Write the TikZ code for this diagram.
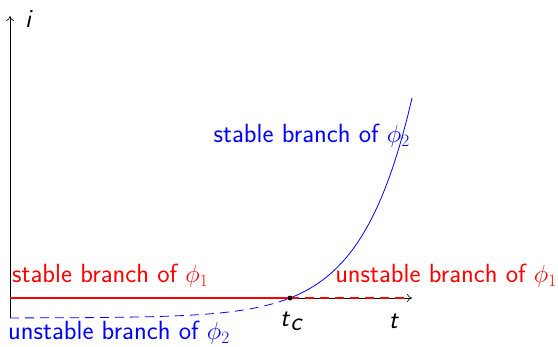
\documentclass[tikz,border=0pt]{standalone}
\usetikzlibrary{arrows.meta}
\begin{document}
\begin{tikzpicture}[x=1pt,y=-1pt,
  lbl/.style={font=\fontsize{26.3}{31}\selectfont\sffamily, inner sep=0pt},
  axis/.style={draw=black, line width=0.6pt, -{To[length=5pt,width=8pt]}},
  bluecurve/.style={draw=blue, line width=0.8pt},
  declare function={f(\x)=298-20*(exp(0.01966*(\x-290))-1);}]
\useasboundingbox (0,0) rectangle (558,347);
\coordinate (O) at (10,298);
\coordinate (Ob) at (10,318);
\coordinate (Ytop) at (10,16);
\coordinate (Xend) at (412,298);
\coordinate (tc) at (290,298);
% axes
\draw[line width=0.6pt] (Ob) -- (O);
\draw[axis] (O) -- (Ytop);
\draw[axis] (O) -- (Xend);
% red branches
\draw[red, line width=1.6pt] (O) -- (tc);
\draw[red, line width=1.6pt, dash pattern=on 9pt off 6pt] (tc) -- (406,298);
% blue branches
\draw[bluecurve] plot[domain=290:412, samples=60] ({\x},{f(\x)});
\draw[bluecurve, dash pattern=on 9pt off 6pt] plot[domain=10:290, samples=60] ({\x},{f(\x)});
\fill[black] (tc) circle (2.4pt);
% labels
\node[lbl, anchor=west] (yl) at (25,19) {\textit{i}};
\node[lbl] (tcl) at (291,321) {\textit{t}$_{\textit{c}}$};
\node[lbl] (tl) at (394,321) {\textit{t}};
\node[lbl, red, anchor=west] (s1) at (12,276) {stable branch of $\phi_1$};
\node[lbl, red, anchor=east] (u1) at (557,276) {unstable branch of $\phi_1$};
\node[lbl, blue, anchor=west] (u2) at (8,333) {unstable branch of $\phi_2$};
\node[lbl, blue, anchor=east] (s2) at (410,136) {stable branch of $\phi_2$};
\end{tikzpicture}
\end{document}
